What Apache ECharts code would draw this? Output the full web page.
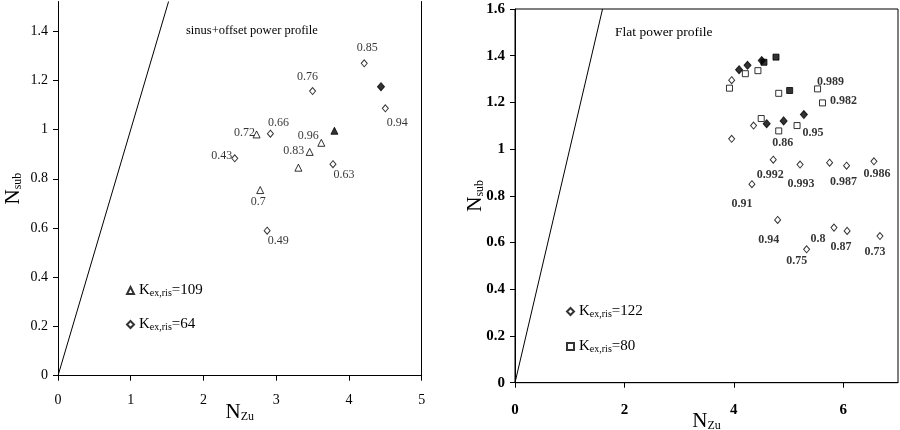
<!DOCTYPE html>
<html>
<head>
<meta charset="utf-8">
<script src="https://cdn.jsdelivr.net/npm/echarts@6/dist/echarts.min.js"></script>
<style>
html, body { margin:0; padding:0; background:#fff; }
#chart { width:900px; height:430px; }
</style>
</head>
<body>
<div id="chart"></div>
<script>
// left panel: sinus+offset power profile
const leftTriOpen = [[2.73, 0.98], [3.62, 0.946], [3.46, 0.909], [3.305, 0.845], [2.78, 0.754]];
const leftTriOpenLabels = ["0.72", "0.96", "0.83", "", "0.7"];
const leftTriFilled = [[3.80, 0.995]];
const leftDiaOpen = [[4.21, 1.269], [3.50, 1.156], [4.50, 1.086], [2.92, 0.983], [2.43, 0.883], [3.78, 0.859], [2.875, 0.589]];
const leftDiaOpenLabels = ["0.85", "0.76", "0.94", "0.66", "0.43", "0.63", "0.49"];
const leftDiaFilled = [[4.44, 1.174]];
const leftDiag = [[0, 0], [1.52, 1.52]];

// right panel: flat power profile
const rightDiaOpen = [[3.96, 1.295], [4.36, 1.101], [3.96, 1.044], [4.72, 0.955], [5.21, 0.934], [5.75, 0.942], [6.06, 0.929],
    [6.56, 0.948], [4.33, 0.850], [4.80, 0.697], [5.83, 0.664], [6.07, 0.650], [5.33, 0.571], [6.67, 0.628]];
const rightDiaOpenLabels = ["", "", "", "0.992", "0.993", "", "0.987", "0.986", "0.91", "0.94", "0.8", "0.87", "0.75", "0.73"];
const rightDiaFilled = [[4.095, 1.340], [4.25, 1.359], [4.51, 1.379], [4.60, 1.109], [4.91, 1.121], [5.28, 1.148]];
const rightSqOpen = [[3.92, 1.261], [4.21, 1.323], [4.44, 1.336], [4.82, 1.239], [5.53, 1.258], [5.62, 1.198], [4.50, 1.131], [4.82, 1.078], [5.155, 1.101]];
const rightSqOpenLabels = ["", "", "", "", "0.989", "0.982", "", "0.86", "0.95"];
const rightSqFilled = [[4.55, 1.372], [4.77, 1.394], [5.02, 1.251]];
const rightDiag = [[0, 0], [1.6, 1.6]];

const leftXTicks = { min: 0, max: 5, interval: 1 };
const leftYTicks = { min: 0, max: 1.52, interval: 0.2 };
const rightXTicks = { min: 0, max: 7, interval: 2 };
const rightYTicks = { min: 0, max: 1.6, interval: 0.2 };

// label placement (offset of label centre from the marker, px)
const leftTriOffsets = [[-12, -2], [-13, -7], [-16, -1], [0, 0], [-2, 12]];
const leftDiaOffsets = [[3, -15], [-5, -14], [12, 14], [8, -11], [-13, -2], [11, 11], [11, 10]];
const rightDiaOffsets = [[0, 0], [0, 0], [0, 0], [-3, 15], [1, 19], [0, 0], [-3, 16], [3, 13], [-10, 20], [-9, 20], [-16, 11], [-6, 16], [-10, 12], [-5, 16]];
const rightSqOffsets = [[0, 0], [0, 0], [0, 0], [0, 0], [13, -7], [21, -2], [0, 0], [4, 12], [16, 7]];

const SERIF = "Liberation Serif";

function labelled(points, labels, offsets, bold) {
    return points.map((p, i) => ({
        value: p,
        label: labels[i] ? {
            show: true,
            formatter: labels[i],
            position: "inside",
            offset: offsets[i],
            color: "#000",
            fontFamily: SERIF,
            fontSize: 12,
            fontWeight: bold ? "bold" : "normal"
        } : { show: false }
    }));
}

const openStyle = { color: "#fff", borderColor: "#000", borderWidth: 1 };
const fillStyle = { color: "#000", borderColor: "#000", borderWidth: 1 };

const nameRich = {
    n: { fontFamily: SERIF, fontSize: 21, color: "#000", verticalAlign: "top", lineHeight: 22 },
    s: { fontFamily: SERIF, fontSize: 12, color: "#000", verticalAlign: "top", lineHeight: 14, padding: [9, 0, 0, 0] }
};

function valueAxis(gridIndex, ticks, opts) {
    return Object.assign({
        type: "value",
        gridIndex: gridIndex,
        min: ticks.min,
        max: ticks.max,
        interval: ticks.interval,
        nameMoveOverlap: false,
        axisLine: { show: true, onZero: false, lineStyle: { color: "#000", width: 1 } },
        axisTick: { show: true, length: 5, lineStyle: { color: "#000" } },
        splitLine: { show: false }
    }, opts);
}

const legendText = {
    fontFamily: SERIF, fontSize: 15, color: "#000",
    rich: { s: { fontFamily: SERIF, fontSize: 10, color: "#000", verticalAlign: "bottom" } }
};

const chart = echarts.init(document.getElementById("chart"));

chart.setOption({
    animation: false,
    title: [
        { text: "sinus+offset power profile", left: 181, top: 19,
          textStyle: { fontFamily: SERIF, fontSize: 12.5, fontWeight: "normal", color: "#000" } },
        { text: "Flat power profile", left: 610, top: 20,
          textStyle: { fontFamily: SERIF, fontSize: 13.5, fontWeight: "normal", color: "#000" } }
    ],
    legend: [
        {
            orient: "vertical", left: 126, top: 283, padding: 0, itemGap: 19, itemWidth: 7, itemHeight: 7,
            data: ["Kex,ris=109", "Kex,ris=64"],
            formatter: n => n.replace("Kex,ris", "K{s|ex,ris}"),
            textStyle: legendText
        },
        {
            orient: "vertical", left: 566, top: 304, padding: 0, itemGap: 20, itemWidth: 7, itemHeight: 7,
            data: ["Kex,ris=122", "Kex,ris=80"],
            formatter: n => n.replace("Kex,ris", "K{s|ex,ris}"),
            textStyle: legendText
        }
    ],
    grid: [
        { left: 58, top: 1.5, width: 363.7, height: 374.2, outerBoundsMode: "none" },
        { left: 515, top: 9, width: 383, height: 373.7, outerBoundsMode: "none",
          show: true, borderColor: "#000", borderWidth: 1, backgroundColor: "transparent" }
    ],
    xAxis: [
        valueAxis(0, leftXTicks, {
            name: "{n|N}{s|Zu}", nameLocation: "middle", nameGap: 26,
            nameTextStyle: { rich: nameRich },
            axisLabel: { margin: 18, fontFamily: SERIF, fontSize: 14, color: "#000" }
        }),
        valueAxis(1, rightXTicks, {
            name: "{n|N}{s|Zu}", nameLocation: "middle", nameGap: 28,
            nameTextStyle: { rich: nameRich },
            axisLabel: { margin: 20, fontFamily: SERIF, fontSize: 15, fontWeight: "bold", color: "#000", showMaxLabel: false }
        })
    ],
    yAxis: [
        valueAxis(0, leftYTicks, {
            name: "{n|N}{s|sub}", nameLocation: "middle", nameGap: 33, nameRotate: 90,
            nameTextStyle: { rich: nameRich },
            axisLabel: { margin: 10, fontFamily: SERIF, fontSize: 14, color: "#000", showMaxLabel: false }
        }),
        valueAxis(0, leftYTicks, {
            position: "right",
            axisTick: { show: false },
            axisLabel: { show: false }
        }),
        valueAxis(1, rightYTicks, {
            name: "{n|N}{s|sub}", nameLocation: "middle", nameGap: 28, nameRotate: 90,
            nameTextStyle: { rich: nameRich },
            axisLabel: { margin: 10, fontFamily: SERIF, fontSize: 15, fontWeight: "bold", color: "#000" }
        })
    ],
    series: [
        { type: "line", xAxisIndex: 0, yAxisIndex: 0, data: leftDiag, symbol: "none",
          lineStyle: { color: "#000", width: 1 }, silent: true, z: 1 },
        { name: "Kex,ris=109", type: "scatter", xAxisIndex: 0, yAxisIndex: 0, symbol: "triangle", symbolSize: 7,
          itemStyle: openStyle, data: labelled(leftTriOpen, leftTriOpenLabels, leftTriOffsets, false) },
        { name: "filled109", type: "scatter", xAxisIndex: 0, yAxisIndex: 0, symbol: "triangle", symbolSize: 7,
          itemStyle: fillStyle, data: leftTriFilled },
        { name: "Kex,ris=64", type: "scatter", xAxisIndex: 0, yAxisIndex: 0, symbol: "diamond", symbolSize: [6, 7],
          itemStyle: openStyle, data: labelled(leftDiaOpen, leftDiaOpenLabels, leftDiaOffsets, false) },
        { name: "filled64", type: "scatter", xAxisIndex: 0, yAxisIndex: 0, symbol: "diamond", symbolSize: [7, 8],
          itemStyle: fillStyle, data: leftDiaFilled },

        { type: "line", xAxisIndex: 1, yAxisIndex: 2, data: rightDiag, symbol: "none",
          lineStyle: { color: "#000", width: 1 }, silent: true, z: 1 },
        { name: "Kex,ris=122", type: "scatter", xAxisIndex: 1, yAxisIndex: 2, symbol: "diamond", symbolSize: [6, 7],
          itemStyle: openStyle, data: labelled(rightDiaOpen, rightDiaOpenLabels, rightDiaOffsets, true) },
        { name: "filled122", type: "scatter", xAxisIndex: 1, yAxisIndex: 2, symbol: "diamond", symbolSize: [7, 8],
          itemStyle: fillStyle, data: rightDiaFilled },
        { name: "Kex,ris=80", type: "scatter", xAxisIndex: 1, yAxisIndex: 2, symbol: "rect", symbolSize: 6,
          itemStyle: openStyle, data: labelled(rightSqOpen, rightSqOpenLabels, rightSqOffsets, true) },
        { name: "filled80", type: "scatter", xAxisIndex: 1, yAxisIndex: 2, symbol: "rect", symbolSize: 6,
          itemStyle: fillStyle, data: rightSqFilled }
    ]
});
</script>
</body>
</html>
